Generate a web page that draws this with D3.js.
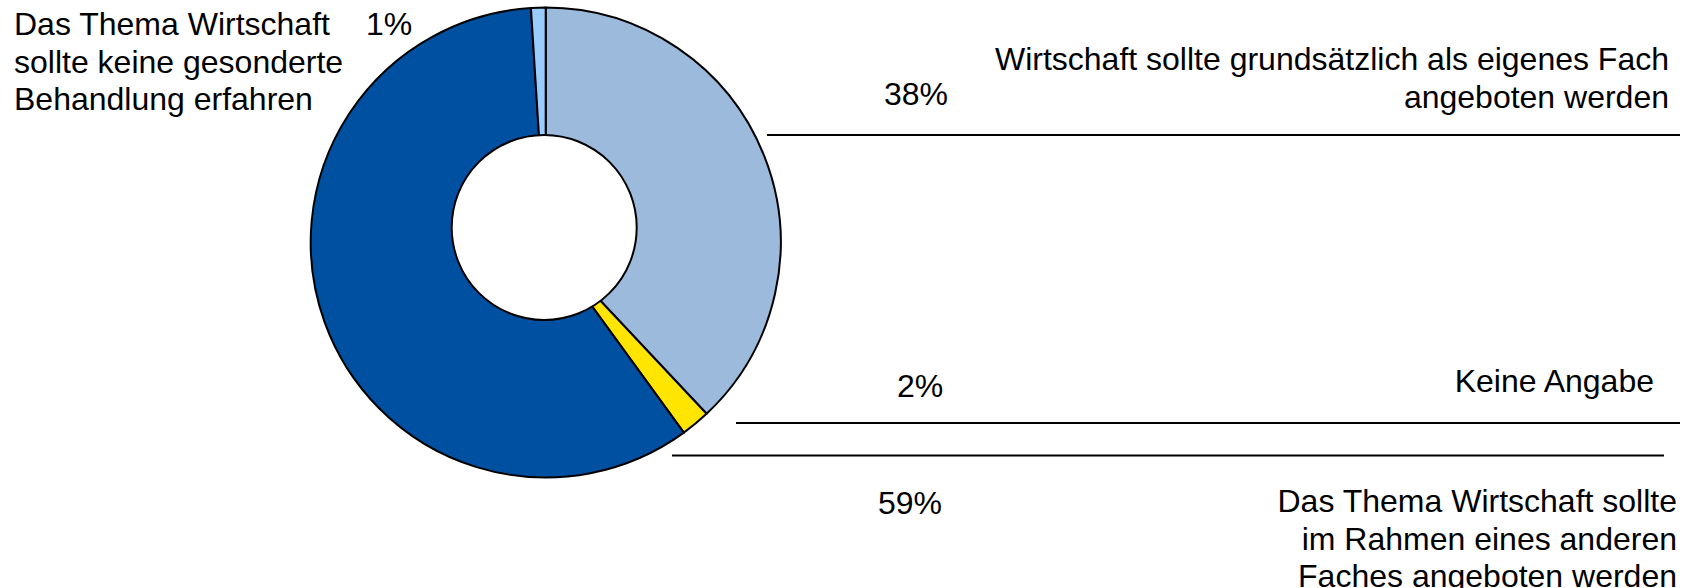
<!DOCTYPE html>
<html>
<head>
<meta charset="utf-8">
<script src="https://cdn.jsdelivr.net/npm/d3@7/dist/d3.min.js"></script>
<style>
  html, body { margin: 0; padding: 0; background: #fff; }
  svg { display: block; }
  text { font-family: "Liberation Sans", Arial, sans-serif; fill: #000; }
</style>
</head>
<body>
<svg id="chart" width="1692" height="588"></svg>
<script>
// ---- data ----
const categories = [
  "Wirtschaft sollte grundsätzlich als eigenes Fach angeboten werden",
  "Keine Angabe",
  "Das Thema Wirtschaft sollte im Rahmen eines anderen Faches angeboten werden",
  "Das Thema Wirtschaft sollte keine gesonderte Behandlung erfahren"
];
const values = [38, 2, 59, 1];
const valueLabels = ["38%", "2%", "59%", "1%"];
const categoryLines = [
  ["Wirtschaft sollte grundsätzlich als eigenes Fach", "angeboten werden"],
  ["Keine Angabe"],
  ["Das Thema Wirtschaft sollte", "im Rahmen eines anderen", "Faches angeboten werden"],
  ["Das Thema Wirtschaft", "sollte keine gesonderte", "Behandlung erfahren"]
];

// ---- styles / layout ----
const colors = ["#9BBADC", "#FFE500", "#0050A2", "#99CCFF"];
const cx = 545.7, cy = 242.5, R = 235;
const hole = { x: 544.2, y: 227.5, r: 92.5 };
const fontSize = 32, lineH = 37.5;

// category label layout: anchor, x, first baseline
const catLayout = [
  { anchor: "end", x: 1669, y: 70 },
  { anchor: "end", x: 1654, y: 392 },
  { anchor: "end", x: 1677, y: 512 },
  { anchor: "start", x: 14, y: 35 }
];
const valLayout = [
  { anchor: "middle", x: 916, y: 105 },
  { anchor: "middle", x: 920, y: 397 },
  { anchor: "middle", x: 910, y: 514 },
  { anchor: "middle", x: 389, y: 35 }
];
const leaders = [
  { x1: 767, x2: 1680, y: 135 },
  { x1: 736, x2: 1680, y: 423 },
  { x1: 672, x2: 1664, y: 455.5 }
];

const svg = d3.select("#chart");

const pie = d3.pie().sort(null).value(d => d)(values);
const arc = d3.arc().innerRadius(0).outerRadius(R);

const g = svg.append("g").attr("transform", `translate(${cx},${cy})`);
g.selectAll("path.slice")
  .data(pie)
  .join("path")
  .attr("class", "slice")
  .attr("d", arc)
  .attr("fill", (d, i) => colors[i])
  .attr("stroke", "#000")
  .attr("stroke-width", 2)
  .attr("stroke-linejoin", "round");

svg.append("circle")
  .attr("cx", hole.x).attr("cy", hole.y).attr("r", hole.r)
  .attr("fill", "#fff").attr("stroke", "#000").attr("stroke-width", 2);

// leader lines
svg.selectAll("line.leader")
  .data(leaders)
  .join("line")
  .attr("class", "leader")
  .attr("x1", d => d.x1).attr("x2", d => d.x2)
  .attr("y1", d => d.y).attr("y2", d => d.y)
  .attr("stroke", "#000").attr("stroke-width", 2);

// category labels
categoryLines.forEach((lines, i) => {
  const L = catLayout[i];
  const t = svg.append("text")
    .attr("text-anchor", L.anchor)
    .attr("font-size", fontSize);
  lines.forEach((ln, j) => {
    t.append("tspan").attr("x", L.x).attr("y", L.y + j * lineH).text(ln);
  });
});

// value labels
svg.selectAll("text.val")
  .data(valueLabels)
  .join("text")
  .attr("class", "val")
  .attr("text-anchor", (d, i) => valLayout[i].anchor)
  .attr("x", (d, i) => valLayout[i].x)
  .attr("y", (d, i) => valLayout[i].y)
  .attr("font-size", fontSize)
  .text(d => d);
</script>
</body>
</html>
